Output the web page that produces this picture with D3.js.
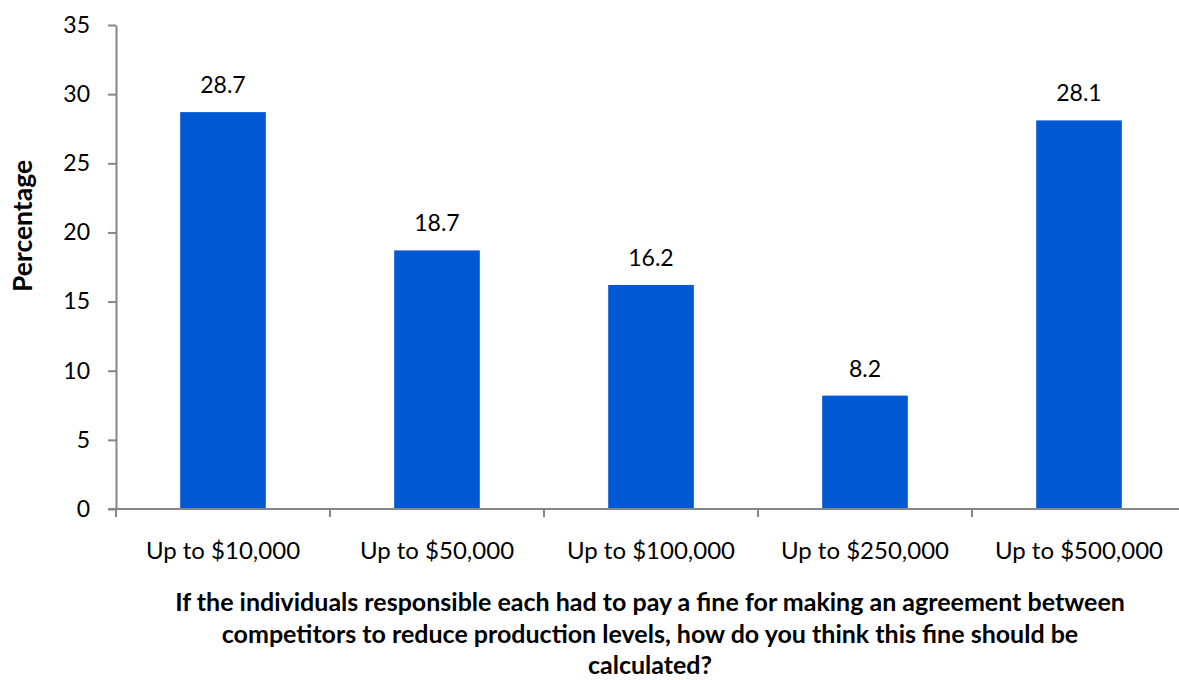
<!DOCTYPE html>
<html>
<head>
<meta charset="utf-8">
<script src="https://cdn.jsdelivr.net/npm/d3@7"></script>
<style>
  html, body { margin: 0; padding: 0; background: #fff; }
  svg { display: block; font-family: Lato, "Open Sans", sans-serif; }
</style>
</head>
<body>
<svg id="chart" width="1179" height="680"></svg>
<script>
// Survey answers: share of respondents choosing each fine level
const categories = ["Up to $10,000", "Up to $50,000", "Up to $100,000", "Up to $250,000", "Up to $500,000"];
const percentages = [28.7, 18.7, 16.2, 8.2, 28.1];
const yTicks = [0, 5, 10, 15, 20, 25, 30, 35];
const yAxisTitle = "Percentage";
const xAxisTitleLines = [
  "If the individuals responsible each had to pay a fine for making an agreement between",
  "competitors to reduce production levels, how do you think this fine should be",
  "calculated?"
];

const svg = d3.select("#chart");
const margin = { left: 116, top: 25, bottom: 171 };
const bandStep = 214;
const plotBottom = 680 - margin.bottom;

const x = d3.scaleBand()
  .domain(categories)
  .range([margin.left, margin.left + bandStep * categories.length])
  .paddingInner(0.6)
  .paddingOuter(0.3);

const y = d3.scaleLinear().domain([0, 35]).range([plotBottom, margin.top]);

const axisColor = "#868686";

// Bars
svg.append("g").selectAll("rect")
  .data(percentages)
  .join("rect")
  .attr("x", (d, i) => x(categories[i]))
  .attr("y", d => y(d))
  .attr("width", x.bandwidth())
  .attr("height", d => y(0) - y(d))
  .attr("fill", "#0058D2");

// Value labels above bars
svg.append("g").selectAll("text")
  .data(percentages)
  .join("text")
  .attr("x", (d, i) => x(categories[i]) + x.bandwidth() / 2)
  .attr("y", d => y(d) - 19)
  .attr("text-anchor", "middle")
  .attr("font-size", 23)
  .attr("fill", "#000")
  .text(d => d.toFixed(1));

// Y axis
const yAxis = svg.append("g")
  .attr("transform", `translate(${margin.left},0)`)
  .call(d3.axisLeft(y).tickValues(yTicks).tickSize(8).tickPadding(18).tickSizeOuter(0));
yAxis.select(".domain").attr("stroke", axisColor).attr("stroke-width", 2);
yAxis.selectAll(".tick line").attr("stroke", axisColor).attr("stroke-width", 2);
yAxis.selectAll(".tick text")
  .attr("font-size", 23)
  .attr("font-family", "Lato, sans-serif")
  .attr("fill", "#000");

// X axis: baseline with category boundary ticks
const xAxisG = svg.append("g").attr("transform", `translate(0,${plotBottom})`);
xAxisG.append("line")
  .attr("x1", margin.left - 8)
  .attr("x2", 1179)
  .attr("stroke", axisColor)
  .attr("stroke-width", 2);
const boundaries = d3.range(categories.length + 1).map(i => margin.left + i * bandStep);
xAxisG.selectAll("line.bound")
  .data(boundaries)
  .join("line")
  .attr("class", "bound")
  .attr("x1", d => d).attr("x2", d => d)
  .attr("y1", 0).attr("y2", 8)
  .attr("stroke", axisColor)
  .attr("stroke-width", 2);
xAxisG.selectAll("text")
  .data(categories)
  .join("text")
  .attr("x", d => x(d) + x.bandwidth() / 2)
  .attr("y", 50)
  .attr("text-anchor", "middle")
  .attr("font-size", 24)
  .attr("fill", "#000")
  .text(d => d);

// Y axis title
svg.append("text")
  .attr("transform", "translate(32,226) rotate(-90)")
  .attr("text-anchor", "middle")
  .attr("font-size", 26.5)
  .attr("font-weight", "bold")
  .attr("fill", "#000")
  .text(yAxisTitle);

// X axis title (three centred lines)
svg.append("g").selectAll("text")
  .data(xAxisTitleLines)
  .join("text")
  .attr("x", 650)
  .attr("y", (d, i) => 611 + i * 31.5)
  .attr("text-anchor", "middle")
  .attr("font-size", 25)
  .attr("font-weight", "bold")
  .attr("fill", "#000")
  .text(d => d);
</script>
</body>
</html>
